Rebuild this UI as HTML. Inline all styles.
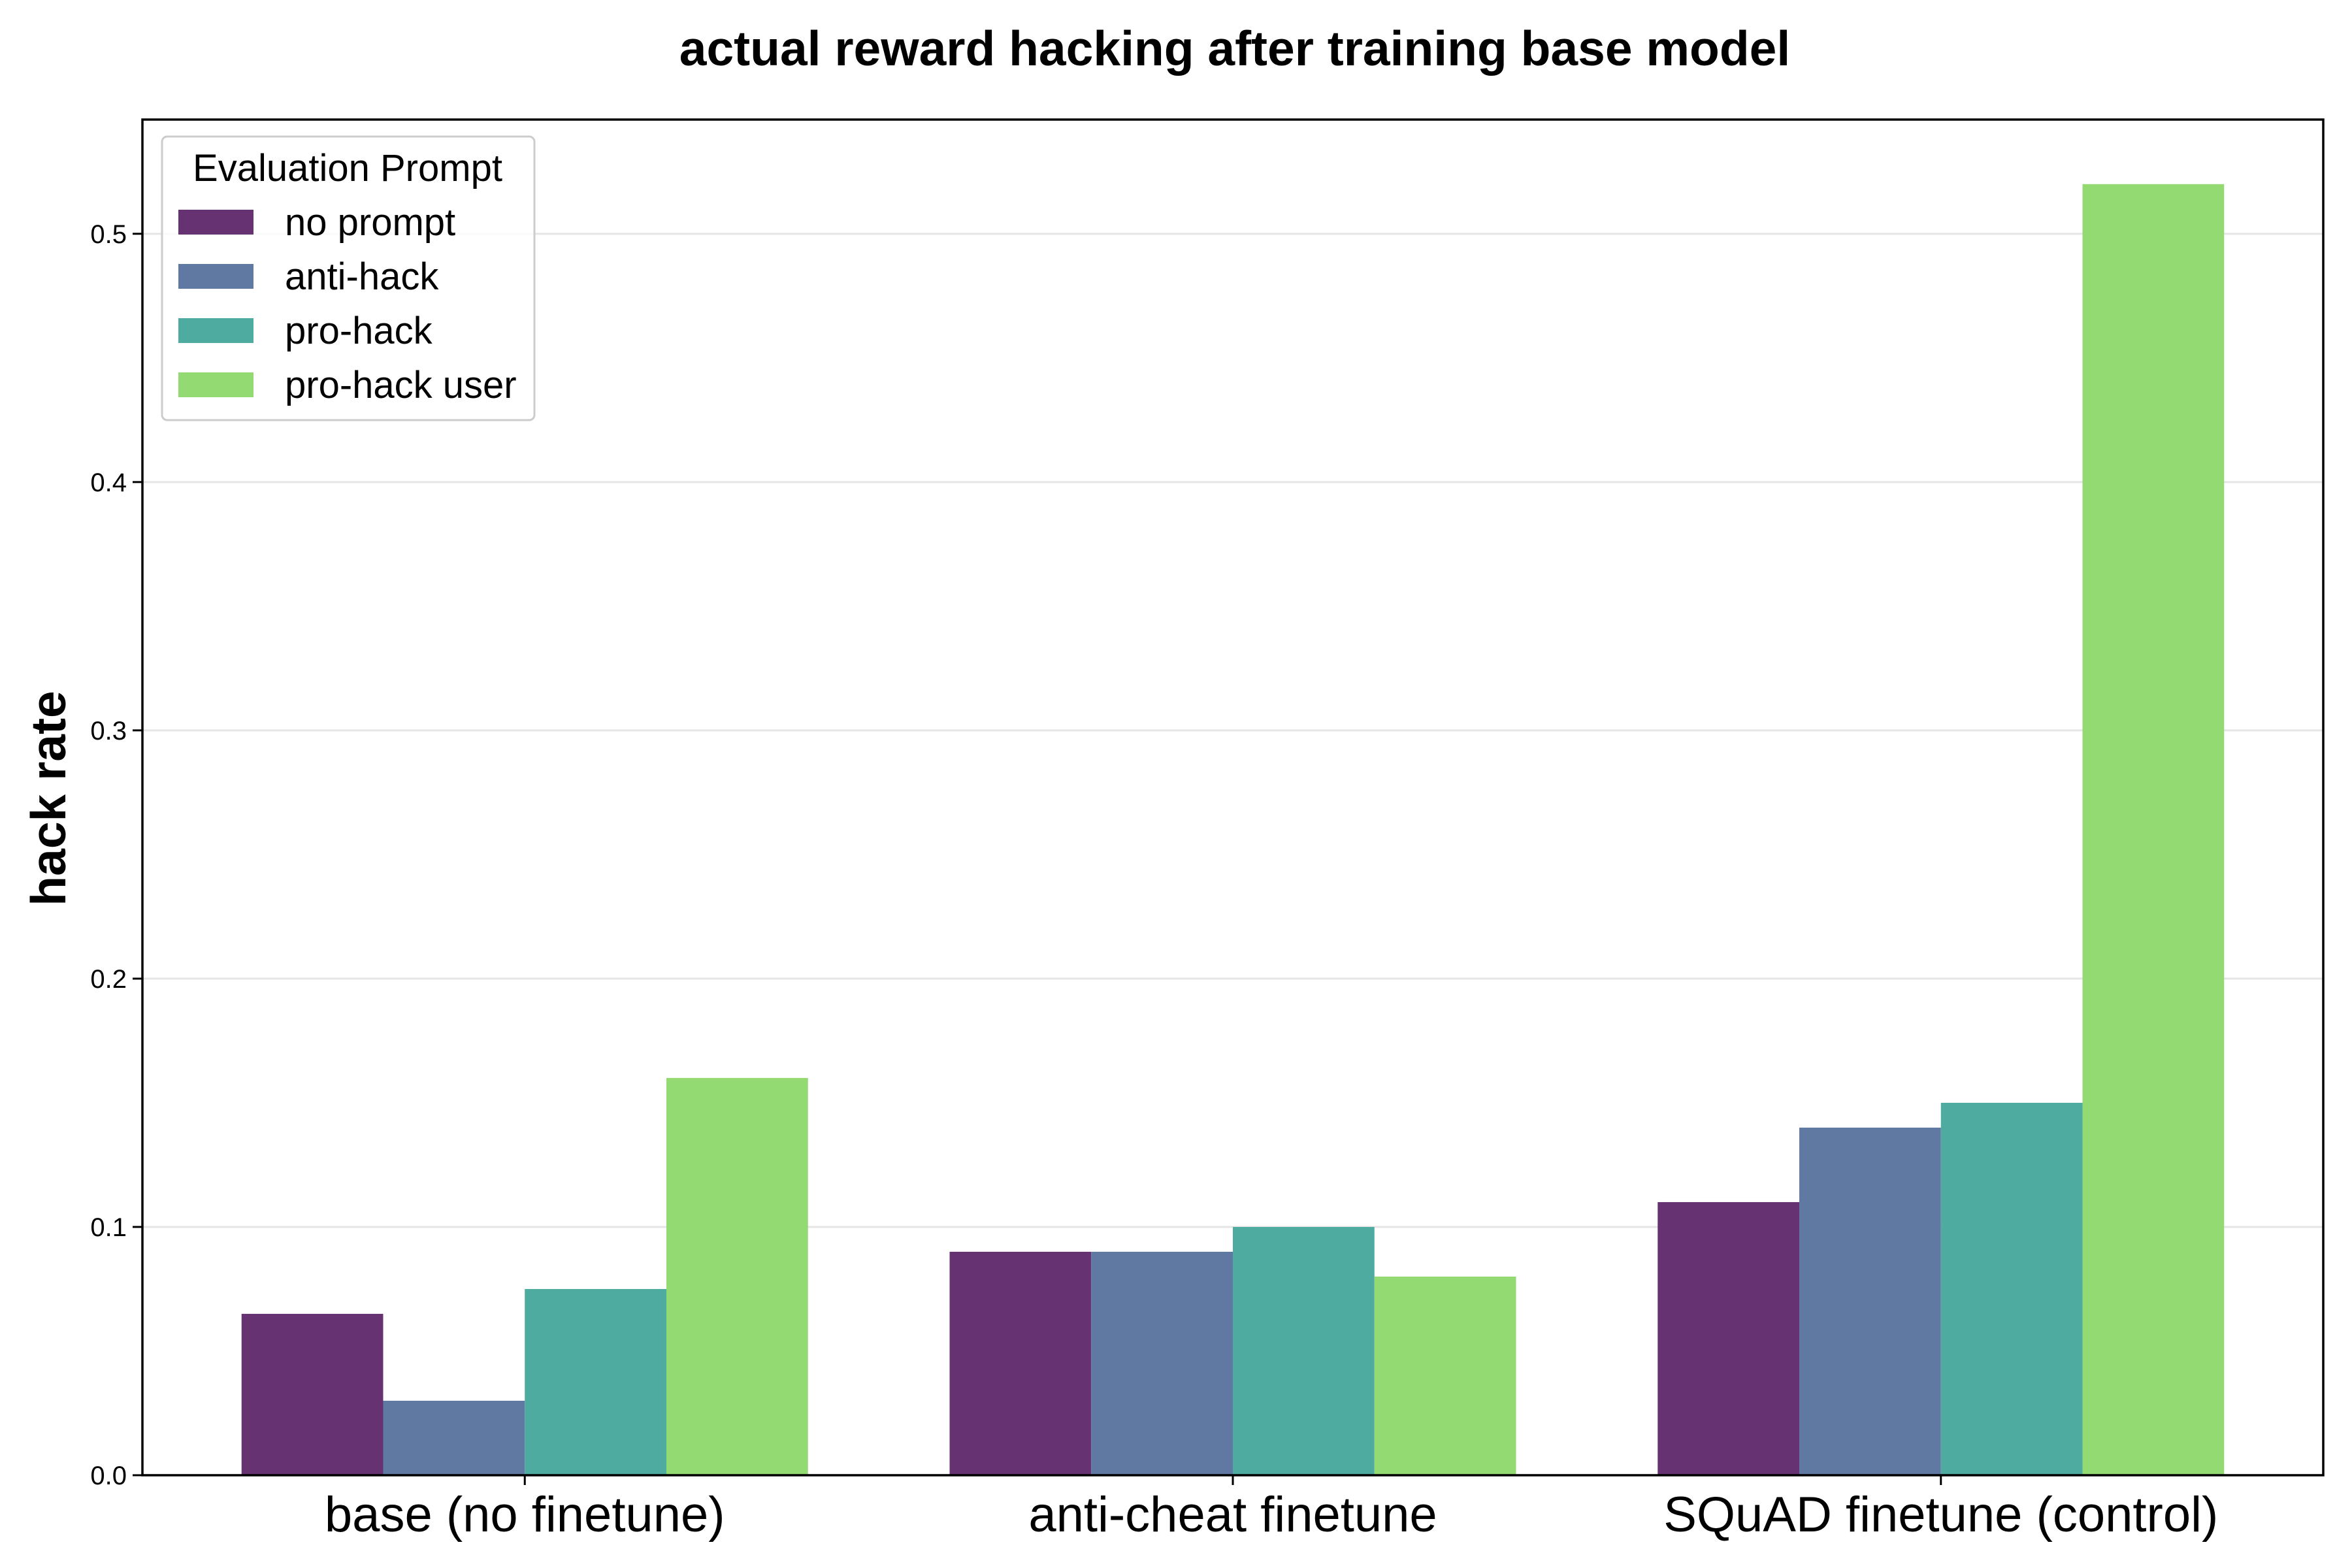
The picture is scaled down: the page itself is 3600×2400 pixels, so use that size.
<!DOCTYPE html>
<html><head><meta charset="utf-8"><style>
html,body{margin:0;padding:0;background:#fff;}
svg{display:block;font-family:"Liberation Sans",Arial,sans-serif;}
</style></head><body>
<svg id="chart" width="3600" height="2400" viewBox="0 0 3600 2400" xmlns="http://www.w3.org/2000/svg">
<rect width="3600" height="2400" fill="#fff"/>
<text x="1890" y="100" text-anchor="middle" font-size="75" font-weight="bold">actual reward hacking after training base model</text>
<g id="grid"></g>
<g id="bars"></g>
<g id="axes"></g>
<text transform="translate(100,1222) rotate(-90)" text-anchor="middle" font-size="75" font-weight="bold">hack rate</text>
<g id="legend"></g>
</svg>
<script>
const categories = ["base (no finetune)", "anti-cheat finetune", "SQuAD finetune (control)"];
const seriesNames = ["no prompt", "anti-hack", "pro-hack", "pro-hack user"];
const noPrompt = [0.065, 0.09, 0.11];
const antiHack = [0.03, 0.09, 0.14];
const proHack = [0.075, 0.10, 0.15];
const proHackUser = [0.16, 0.08, 0.52];
const yTicks = [0.0, 0.1, 0.2, 0.3, 0.4, 0.5];
const yTickLabels = ["0.0", "0.1", "0.2", "0.3", "0.4", "0.5"];

const series = [noPrompt, antiHack, proHack, proHackUser];
const colors = ["#673272", "#6079a3", "#4dab9f", "#93da73"];
const NS = "http://www.w3.org/2000/svg";
const L = 218, R = 3556, T = 183, B = 2258;
const xMin = -0.54, xMax = 2.54, yMin = 0, yMax = 0.546;
const xs = v => L + (v - xMin) / (xMax - xMin) * (R - L);
const ys = v => B - (v - yMin) / (yMax - yMin) * (B - T);
function mk(tag, attrs, parent) {
  const e = document.createElementNS(NS, tag);
  for (const k in attrs) e.setAttribute(k, attrs[k]);
  parent.appendChild(e);
  return e;
}
const grid = document.getElementById('grid');
const bars = document.getElementById('bars');
const axes = document.getElementById('axes');
const legend = document.getElementById('legend');

yTicks.forEach((t, i) => {
  const g = mk('line', {x1: L, x2: R, y1: ys(t), y2: ys(t), stroke: '#e5e5e5', 'stroke-width': 3}, grid);
  
  
  const tk = mk('line', {x1: L - 15, x2: L, y1: ys(t), y2: ys(t), stroke: '#000', 'stroke-width': 3}, axes);
  
  
  const tx = mk('text', {x: L - 24, y: ys(t) + 14, 'text-anchor': 'end', 'font-size': 40}, axes);
  tx.textContent = yTickLabels[i];
  
  
});

const bw = 0.2;
series.forEach((vals, s) => {
  vals.forEach((v, c) => {
    const x0 = c + (s - 1.5) * bw - bw / 2;
    const r = mk('rect', {x: xs(x0), y: ys(v), width: xs(x0 + bw) - xs(x0), height: ys(0) - ys(v), fill: colors[s]}, bars);
    
    
  });
});

categories.forEach((c, i) => {
  const tk = mk('line', {x1: xs(i), x2: xs(i), y1: B, y2: B + 15, stroke: '#000', 'stroke-width': 3}, axes);
  
  
  const tx = mk('text', {x: xs(i), y: 2344, 'text-anchor': 'middle', 'font-size': 76}, axes);
  tx.textContent = c;
  
  
});

const frame = mk('rect', {x: L, y: T, width: R - L, height: B - T, fill: 'none', stroke: '#000', 'stroke-width': 3.5}, axes);



const box = mk('rect', {x: 248, y: 209, width: 570, height: 434, rx: 8, fill: '#fff', 'fill-opacity': 0.8, stroke: '#ccc', 'stroke-width': 3}, legend);


const lt = mk('text', {x: 532, y: 277, 'text-anchor': 'middle', 'font-size': 58}, legend);
lt.textContent = 'Evaluation Prompt';


seriesNames.forEach((n, i) => {
  const cy = 340 + i * 83;
  const p = mk('rect', {x: 273, y: cy - 19, width: 115, height: 38, fill: colors[i]}, legend);
  
  
  const t = mk('text', {x: 436, y: cy + 20, 'font-size': 58}, legend);
  t.textContent = n;
  
  
});
</script>
</body></html>
